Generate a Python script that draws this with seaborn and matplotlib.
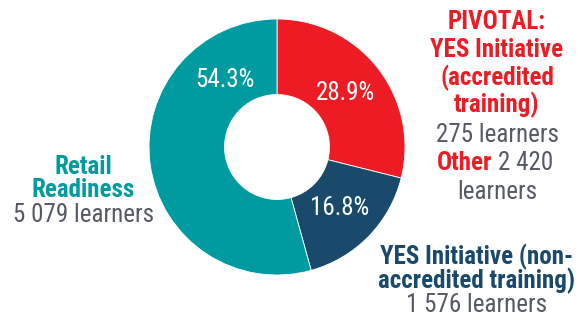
import matplotlib
matplotlib.use("Agg")
import matplotlib.pyplot as plt
import seaborn as sns
import numpy as np
from matplotlib import font_manager

# ---- data ----
segments = ["PIVOTAL: YES Initiative (accredited training)",
            "YES Initiative (non-accredited training)",
            "Retail Readiness"]
shares = [28.9, 16.8, 54.3]
pct_labels = ["28.9%", "16.8%", "54.3%"]
colors = ["#ED1C24", "#1A4A6B", "#009BA0"]

pivotal_title = ["PIVOTAL:", "YES Initiative", "(accredited", "training)"]
pivotal_count = "275 learners"
other_word = "Other"
other_count = "2 420"
other_tail = "learners"
yes_title = ["YES Initiative (non-", "accredited training)"]
yes_count = "1 576 learners"
retail_title = ["Retail", "Readiness"]
retail_count = "5 079 learners"

sns.set_theme(style="white")
names = {f.name for f in font_manager.fontManager.ttflist}
fam = [f for f in ["Roboto Condensed", "Archivo Narrow", "Roboto", "DejaVu Sans"] if f in names]
plt.rcParams["font.family"] = fam

W, H = 581, 322
fig = plt.figure(figsize=(W / 100, H / 100), dpi=100)
ax = fig.add_axes([0, 0, 1, 1])

cx, cy, R = 277, H - 147, 128
wedges, _ = ax.pie(shares, colors=colors, startangle=90, counterclock=False,
                   radius=R, center=(cx, cy), frame=True,
                   wedgeprops=dict(width=R * 0.59, edgecolor="white", linewidth=0.6))
ax.set_xlim(0, W)
ax.set_ylim(0, H)
ax.set_aspect("equal")
ax.axis("off")

fs = 18
grey = "#555963"
for i, w in enumerate(wedges):
    ang = np.deg2rad((w.theta1 + w.theta2) / 2)
    r = 87
    if i == 2:
        ang = np.deg2rad(128)
        r = 85
    ax.text(cx + r * np.cos(ang), cy + r * np.sin(ang), pct_labels[i],
            color="white", fontsize=fs, ha="center", va="center")

def y(py):
    return H - py

# PIVOTAL block
px = 497
for line, py in zip(pivotal_title, [22, 50, 78, 105]):
    ax.text(px, y(py), line, color=colors[0], fontsize=fs, fontweight="bold",
            ha="center", va="center")
ax.text(px, y(135), pivotal_count, color=grey, fontsize=fs, ha="center", va="center")
ax.text(492, y(163), other_word, color=colors[0], fontsize=fs, fontweight="bold",
        ha="right", va="center")
ax.text(498, y(163), other_count, color=grey, fontsize=fs, ha="left", va="center")
ax.text(px, y(192), other_tail, color=grey, fontsize=fs, ha="center", va="center")

# YES block
yx = 477
for line, py in zip(yes_title, [257, 281]):
    ax.text(yx, y(py), line, color=colors[1], fontsize=fs, fontweight="bold",
            ha="center", va="center")
ax.text(yx, y(305), yes_count, color=grey, fontsize=fs, ha="center", va="center")

# Retail block
rx = 83
for line, py in zip(retail_title, [167, 190]):
    ax.text(rx, y(py), line, color=colors[2], fontsize=fs, fontweight="bold",
            ha="center", va="center")
ax.text(rx + 1, y(215), retail_count, color=grey, fontsize=fs, ha="center", va="center")

fig.savefig("out.png", dpi=100)
